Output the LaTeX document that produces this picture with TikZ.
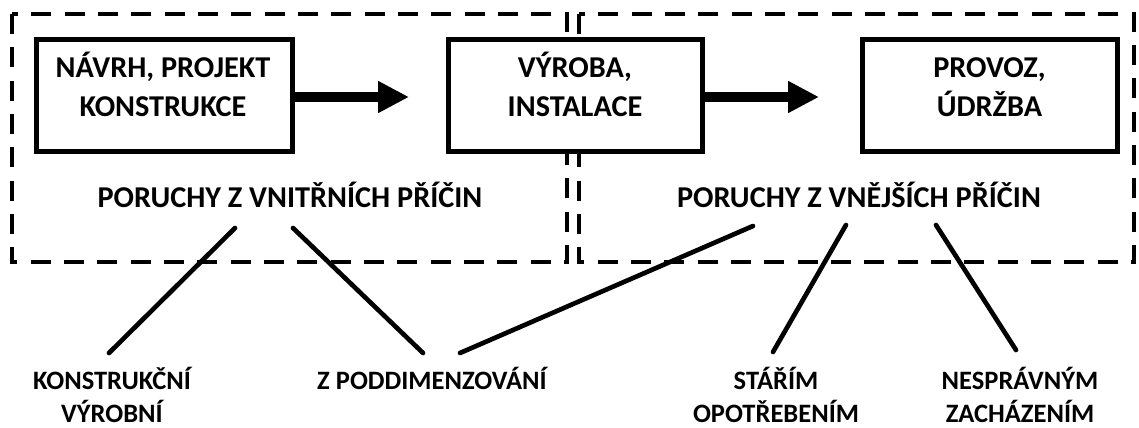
\documentclass[tikz,border=0pt]{standalone}
\usepackage{fontspec}
\setmainfont{Carlito}
\usetikzlibrary{arrows.meta}
\begin{document}
\begin{tikzpicture}[x=0.75pt,y=-0.75pt,
  dashbox/.style={line width=3.4pt, dash pattern=on 15pt off 10pt},
  stage/.style={draw, fill=white, line width=3.75pt, minimum height=83.25pt, inner sep=0pt, outer sep=0pt},
  stagetext/.style={font=\bfseries\fontsize{22.7}{29.25}\selectfont, align=center, inner sep=0pt, anchor=base},
  cause/.style={font=\bfseries\fontsize{22.7}{29.25}\selectfont, inner sep=0pt, anchor=base},
  leaf/.style={font=\bfseries\fontsize{19.9}{24.75}\selectfont, align=center, inner sep=0pt, anchor=base},
  flow/.style={line width=7.5pt, -{Triangle[length=23.25pt, width=22.5pt]}},
  link/.style={line width=3.5pt, line cap=round}]
\fill[white] (0,0) rectangle (1139,428);
\useasboundingbox (0,0) rectangle (1139,428);

% dashed groups
\draw[dashbox] (12,14) rectangle (567,262);
\draw[dashbox] (579,14) rectangle (1134,262);

% stages
\node[stage, minimum width=192pt] (b1) at (164,95.5) {};
\node[stage, minimum width=190.5pt] (b2) at (575,95.5) {};
\node[stage, minimum width=191.25pt] (b3) at (989.5,95.5) {};
\node[stagetext] (t1) at (163,117) {NÁVRH, PROJEKT\\KONSTRUKCE};
\node[stagetext] (t2) at (575,117) {VÝROBA,\\INSTALACE};
\node[stagetext] (t3) at (989.5,117) {PROVOZ,\\ÚDRŽBA};

% flow arrows
\coordinate (a1) at (409,97);
\coordinate (a2) at (819,97);
\draw[flow] (b1.east |- a1) -- (a1);
\draw[flow] (b2.east |- a2) -- (a2);

% cause labels
\node[cause] (pv) at (290,207) {PORUCHY Z VNITŘNÍCH PŘÍČIN};
\node[cause] (pe) at (859,207) {PORUCHY Z VNĚJŠÍCH PŘÍČIN};

% leaves
\node[leaf] (l1) at (112,422) {KONSTRUKČNÍ\\VÝROBNÍ};
\node[leaf] (l2) at (432,389) {Z PODDIMENZOVÁNÍ};
\node[leaf] (l3) at (776,422) {STÁŘÍM\\OPOTŘEBENÍM};
\node[leaf] (l4) at (1020,422) {NESPRÁVNÝM\\ZACHÁZENÍM};

% link end points
\coordinate (s1) at (235,228);
\coordinate (e1) at (109,353);
\coordinate (s2) at (293,228);
\coordinate (e2) at (423,353);
\coordinate (s3) at (753,226);
\coordinate (e3) at (460,353);
\coordinate (s4) at (846,225);
\coordinate (e4) at (773,352);
\coordinate (s5) at (936,225);
\coordinate (e5) at (1016,350);
\draw[link] (s1) -- (e1);
\draw[link] (s2) -- (e2);
\draw[link] (s3) -- (e3);
\draw[link] (s4) -- (e4);
\draw[link] (s5) -- (e5);
\end{tikzpicture}
\end{document}
